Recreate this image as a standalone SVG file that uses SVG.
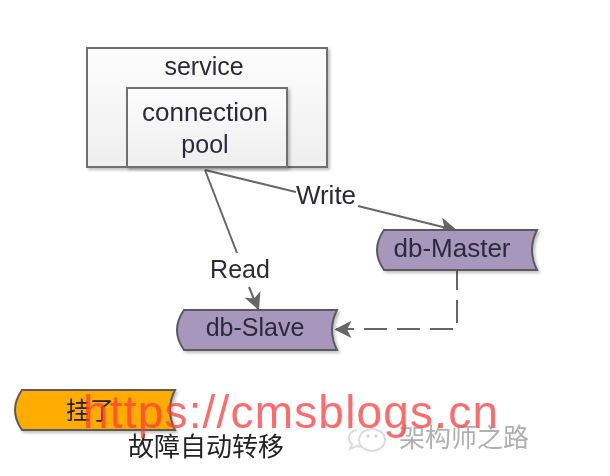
<svg xmlns="http://www.w3.org/2000/svg" width="610" height="476" viewBox="0 0 610 476">
<style>
.t{font-family:"Liberation Sans",Arial,sans-serif;font-size:25px;fill:#2a2a3a;text-anchor:middle}
.w{font-size:26px}
.c{font-family:"Noto Sans CJK SC",sans-serif;text-anchor:middle}
.box{stroke:#707070;stroke-width:2;fill:url(#g);filter:url(#s)}
.tape{stroke:#5a5a5f;stroke-width:2;filter:url(#s)}
.ln{fill:none;stroke:#666;stroke-width:2}
</style>
<defs>
<linearGradient id="g" x1="0" y1="0" x2="0" y2="1"><stop offset="0" stop-color="#fdfdfd"/><stop offset="1" stop-color="#eeeeee"/></linearGradient>
<filter id="s" x="-10%" y="-20%" width="125%" height="150%"><feDropShadow dx="2" dy="2" stdDeviation="1.5" flood-color="#000" flood-opacity=".25"/></filter>
<filter id="b"><feGaussianBlur stdDeviation=".5"/></filter>
<marker id="a" viewBox="0 0 10 10" refX="9" refY="5" markerWidth="9" markerHeight="9" markerUnits="userSpaceOnUse" orient="auto" overflow="visible"><path d="M0 0L10 5L0 10L2.5 5Z" fill="#666" transform="scale(1.9) translate(-4.3,-2.6)"/></marker>
</defs>
<rect width="610" height="476" fill="#fff"/>
<g filter="url(#b)">
<g id="connectors">
<path class="ln" d="M205 170L237 253"/>
<path class="ln" d="M249 287L258 309" marker-end="url(#a)"/>
<path class="ln" d="M205 170L296 192"/>
<path class="ln" d="M358 206L455 230" marker-end="url(#a)"/>
<path class="ln" d="M457 271V329H336" stroke-dasharray="23 10" stroke-dashoffset="4" marker-end="url(#a)"/>
</g>
<g id="service"><rect class="box" x="87" y="48" width="240" height="119"/><text class="t" x="204" y="75">service</text></g>
<g id="pool"><rect class="box" x="127" y="88" width="160" height="79"/><text class="t w" x="205" y="121">connection</text><text class="t" x="205" y="153">pool</text></g>
<g id="write-label"><text class="t w" x="326" y="204">Write</text></g>
<g id="read-label"><text class="t" x="240" y="278">Read</text></g>
<g id="db-master"><path class="tape" fill="#a797bd" d="M384 230H537Q527 250 537 270H384Q370 250 384 230Z"/><text class="t w" x="452" y="257">db-Master</text></g>
<g id="db-slave"><path class="tape" fill="#a797bd" d="M184 310H337Q327 330 337 350H184Q170 330 184 310Z"/><text class="t" x="255" y="336">db-Slave</text></g>
<g id="failed"><path class="tape" fill="#ffab00" stroke="#6b5a30" d="M22 390H175Q165 410 175 430H22Q8 410 22 390Z"/><text class="c" x="90" y="419" font-size="24" fill="#222">挂了</text></g>
<g id="failover-label"><text class="c" x="206" y="456" font-size="26" fill="#222">故障自动转移</text></g>
<g id="watermark-wechat">
<path d="M357 430a9 8 0 0 0-5 14l-2 5 6-3q3 1 6 0" fill="#fff" stroke="#ddd" stroke-width="2"/>
<ellipse cx="372" cy="440" rx="13" ry="11" fill="#fff" stroke="#ddd" stroke-width="2"/>
<circle cx="368" cy="436" r="1.5" fill="#ccc"/><circle cx="376" cy="436" r="1.5" fill="#ccc"/>
</g>
<text class="c" x="464" y="447" font-size="26" fill="#b0b0b0">架构师之路</text>
<text x="83" y="428" font-family="Liberation Sans,Arial,sans-serif" font-size="46" textLength="415" fill="#ff3b3b" fill-opacity=".75">https://cmsblogs.cn</text>
</g>
</svg>
